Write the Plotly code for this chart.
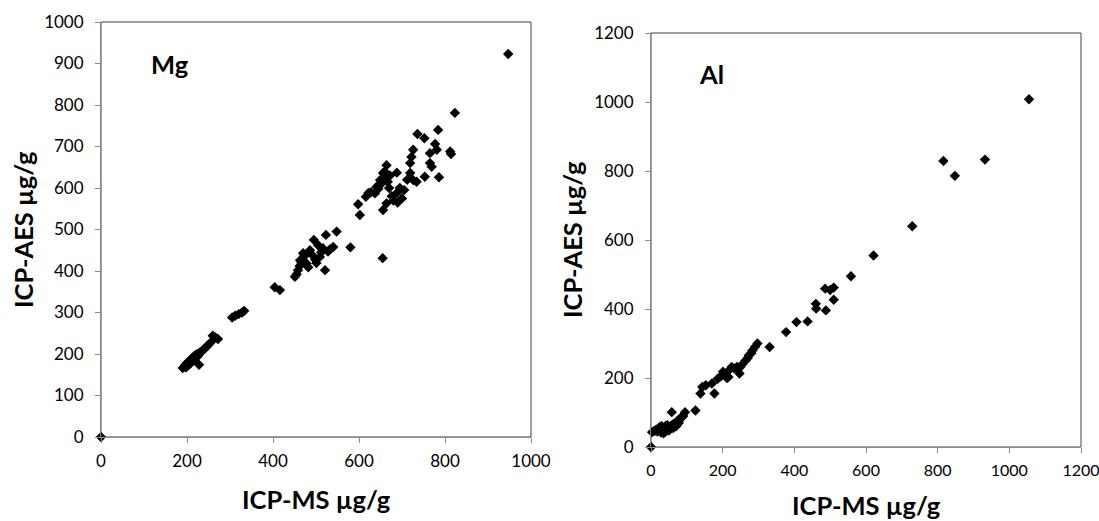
import plotly.graph_objects as go

# Mg: ICP-MS vs ICP-AES (µg/g)
MG_MS = [0, 190, 194, 196, 198, 200, 202, 204, 206, 208, 210, 212, 214, 216, 218, 220, 222, 224, 226,
         228, 230, 234, 238, 242, 246, 250, 255, 260, 266, 272,
         305, 312, 320, 328, 333, 404, 416,
         451, 455, 458, 462, 463, 466, 470, 473, 478, 482, 486, 490, 495, 498, 501, 505, 509, 512,
         516, 521, 523, 528, 532, 540, 548, 580,
         598, 602, 616, 622, 628, 637, 641, 645, 649, 652, 655, 656, 656, 660, 662, 664, 664, 667,
         670, 672, 676, 680, 688, 688, 690, 695, 700, 705, 712, 719, 719, 722, 726, 726, 734, 736,
         752, 753, 765, 765, 769, 777, 781, 784, 786, 812, 814, 823, 947]
MG_AES = [0, 166, 170, 174, 168, 178, 172, 182, 176, 186, 180, 190, 184, 194, 188, 198, 192, 200, 196,
          174, 204, 206, 210, 214, 218, 222, 228, 244, 240, 236,
          288, 292, 296, 300, 304, 361, 354,
          386, 392, 402, 412, 426, 420, 443, 436, 418, 409, 450, 440, 475, 428, 419, 462, 434, 445,
          455, 402, 487, 447, 452, 458, 495, 457,
          561, 535, 579, 588, 590, 587, 603, 598, 619, 610, 431, 547, 636, 639, 625, 563, 655, 615,
          600, 630, 580, 570, 588, 637, 565, 600, 575, 595, 620, 636, 660, 675, 692, 619, 615, 730,
          720, 627, 660, 684, 651, 706, 692, 740, 626, 688, 682, 781, 923]

# Al: ICP-MS vs ICP-AES (µg/g)
AL_MS = [0, 3, 8, 12, 15, 18, 20, 22, 25, 27, 28, 30, 32, 35, 36, 38, 40, 42, 45, 46, 48, 50, 52, 55,
         58, 60, 62, 66, 70, 72, 75, 78, 80, 85, 90, 95, 124, 138, 143, 153, 170, 177, 186, 195, 201,
         208, 212, 216, 220, 225, 232, 240, 247, 249, 255, 264, 270, 273, 280, 283, 290, 297, 331,
         377, 406, 437, 460, 461, 486, 488, 500, 510, 510, 558, 621, 729, 816, 848, 932, 1055]
AL_AES = [0, 43, 46, 48, 50, 45, 52, 55, 58, 50, 42, 60, 47, 40, 55, 50, 45, 62, 52, 63, 58, 48, 55, 60,
          101, 65, 55, 68, 60, 72, 77, 70, 80, 87, 90, 101, 106, 155, 174, 179, 184, 155, 198, 205, 218,
          210, 200, 203, 225, 232, 228, 232, 213, 232, 240, 251, 258, 266, 272, 280, 290, 300, 290,
          333, 362, 364, 415, 401, 459, 396, 455, 462, 427, 495, 555, 640, 829, 786, 833, 1008]

FONT = 'Lato'
W, H = 1099, 521

fig = go.Figure()
fig.add_trace(go.Scatter(x=MG_MS, y=MG_AES, mode='markers', xaxis='x', yaxis='y',
                         marker=dict(symbol='diamond', size=8, color='black'), cliponaxis=False))
fig.add_trace(go.Scatter(x=AL_MS, y=AL_AES, mode='markers', xaxis='x2', yaxis='y2',
                         marker=dict(symbol='diamond', size=8, color='black'), cliponaxis=False))

# pixel boxes of the two plot areas: (left, right, top, bottom)
boxes = [(101, 531, 22, 437), (651, 1081, 33, 447)]
ax_common = dict(showline=True, linecolor='#8c8c8c', linewidth=1, ticks='outside', ticklen=5,
                 tickcolor='#8c8c8c', showgrid=False, zeroline=False, automargin=False,
                 ticklabeloverflow='allow',
                 tickfont=dict(family=FONT, size=17, color='black'))


def px(x):
    return x / W


def py(y):
    return 1 - y / H


def dom(box):
    l, r, t, b = box
    return [px(l), px(r)], [py(b), py(t)]


xd1, yd1 = dom(boxes[0])
xd2, yd2 = dom(boxes[1])

fig.update_layout(
    width=W, height=H, margin=dict(l=0, r=0, t=0, b=0, pad=0, autoexpand=False),
    paper_bgcolor='white', plot_bgcolor='white', showlegend=False,
    xaxis=dict(domain=xd1, range=[0, 1000], dtick=200, anchor='y', ticklabelstandoff=4, **ax_common),
    yaxis=dict(domain=yd1, range=[0, 1000], dtick=100, anchor='x', ticklabelstandoff=8, **ax_common),
    xaxis2=dict(domain=xd2, range=[0, 1200], dtick=200, anchor='y2', ticklabelstandoff=4, **ax_common),
    yaxis2=dict(domain=yd2, range=[0, 1200], dtick=200, anchor='x2', ticklabelstandoff=8, **ax_common),
)
# slightly smaller labels on the right x axis so "1200" stays inside the window
fig.update_layout(xaxis2_tickfont_size=16)

# dark frame on top/right of each plot area
for xr, yr in [('x', 'y'), ('x2', 'y2')]:
    fig.add_shape(type='rect', xref=f'{xr} domain', yref=f'{yr} domain', x0=0, x1=1, y0=0, y1=1,
                  line=dict(color='#404040', width=1), layer='below')

title_font = dict(family=FONT, size=25.5, color='black')
annots = [
    dict(text='<b>ICP-MS µg/g</b>', x=px(316), y=py(499)),
    dict(text='<b>ICP-MS µg/g</b>', x=px(866), y=py(505)),
    dict(text='<b>ICP-AES µg/g</b>', x=px(23), y=py(230), textangle=-90),
    dict(text='<b>ICP-AES µg/g</b>', x=px(572), y=py(240), textangle=-90),
    dict(text='<b>Mg</b>', x=px(170), y=py(64)),
    dict(text='<b>Al</b>', x=px(711), y=py(74)),
]
for a in annots:
    fig.add_annotation(xref='paper', yref='paper', showarrow=False, font=title_font,
                       xanchor='center', yanchor='middle', **a)

# drop the default 8px page margin so the figure fills the window exactly
fig.write_html("out.html", config={'displayModeBar': False},
               post_script="document.body.style.margin='0';document.body.style.overflow='hidden';")
